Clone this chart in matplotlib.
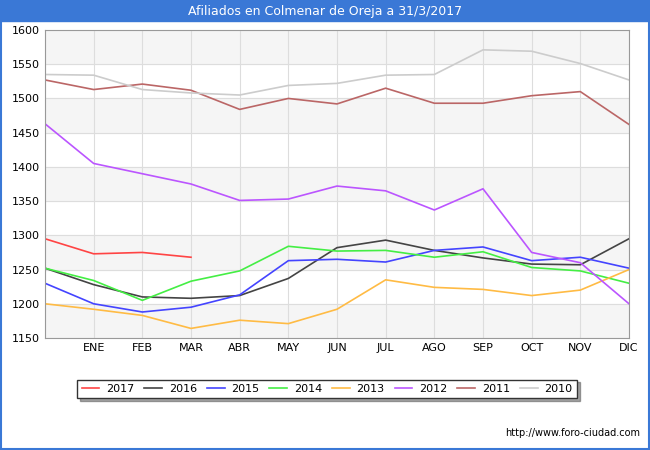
import matplotlib
matplotlib.use("Agg")
import matplotlib.pyplot as plt

months = ["", "ENE", "FEB", "MAR", "ABR", "MAY", "JUN", "JUL", "AGO", "SEP", "OCT", "NOV", "DIC"]
s2017 = [1295, 1273, 1275, 1268]
s2016 = [1252, 1228, 1210, 1208, 1212, 1237, 1282, 1293, 1278, 1267, 1258, 1257, 1295]
s2015 = [1230, 1200, 1188, 1195, 1213, 1263, 1265, 1261, 1278, 1283, 1263, 1268, 1252]
s2014 = [1252, 1234, 1205, 1233, 1248, 1284, 1277, 1278, 1268, 1276, 1253, 1248, 1230]
s2013 = [1200, 1192, 1183, 1164, 1176, 1171, 1192, 1235, 1224, 1221, 1212, 1220, 1250]
s2012 = [1463, 1405, 1390, 1375, 1351, 1353, 1372, 1365, 1337, 1368, 1275, 1260, 1200]
s2011 = [1527, 1513, 1521, 1512, 1484, 1500, 1492, 1515, 1493, 1493, 1504, 1510, 1462]
s2010 = [1535, 1534, 1513, 1508, 1505, 1519, 1522, 1534, 1535, 1571, 1569, 1551, 1527]

series = [("2017", s2017, "#ff4444"), ("2016", s2016, "#444444"), ("2015", s2015, "#4444ff"),
          ("2014", s2014, "#44ee44"), ("2013", s2013, "#ffbb44"), ("2012", s2012, "#bb55ff"),
          ("2011", s2011, "#bb6666"), ("2010", s2010, "#cccccc")]

fig = plt.figure(figsize=(6.5, 4.5), dpi=100)
ax = fig.add_axes([45/650, 1-338/450, 584/650, 308/450])
for lo in range(1150, 1600, 100):
    ax.axhspan(lo, lo+50, color="#f5f5f5", zorder=0)
for y in range(1150, 1601, 50):
    ax.axhline(y, color="#dddddd", lw=0.8, zorder=0.5)
for name, vals, c in series:
    ax.plot(range(len(vals)), vals, color=c, lw=1.2, label=name)
ax.set_xlim(0, 12)
ax.set_ylim(1150, 1600)
ax.set_xticks(range(13))
ax.set_xticklabels(months, fontsize=8)
ax.set_yticks(range(1150, 1601, 50))
ax.tick_params(labelsize=8, length=0)
ax.grid(axis="x", color="#dddddd", lw=0.8)
for s in ax.spines.values():
    s.set_color("#999999")
fig.patches.append(plt.Rectangle((0, 1-21/450), 1, 21/450, transform=fig.transFigure, color="#3a78d6"))
fig.patches.append(plt.Rectangle((0.001, 0.002), 0.998, 0.996, transform=fig.transFigure,
                                 fill=False, edgecolor="#3a78d6", lw=1.5))
fig.text(0.5, 1-11/450, "Afiliados en Colmenar de Oreja a 31/3/2017", ha="center", va="center",
         color="white", fontsize=9)
leg = fig.legend(loc="center", bbox_to_anchor=(327/650, 1-389/450), ncol=8, fontsize=8,
                 frameon=True, fancybox=False, edgecolor="#333333", handlelength=1.6,
                 columnspacing=0.9, handletextpad=0.6, shadow=True)
fig.text(640/650, 1-433/450, "http://www.foro-ciudad.com", ha="right", va="center", fontsize=7)
fig.savefig("out.png")
